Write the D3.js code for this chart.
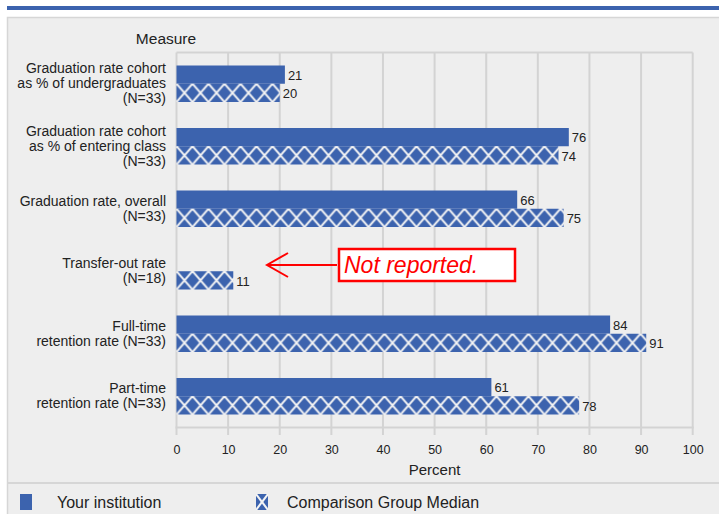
<!DOCTYPE html>
<html><head><meta charset="utf-8">
<script src="https://cdn.jsdelivr.net/npm/d3@7"></script>
<style>body{margin:0;background:#fff;} text{font-family:Arial,"Liberation Sans",sans-serif;}</style>
</head><body>
<svg id="c" width="719" height="514"></svg>
<script>
const categories = [
  ["Graduation rate cohort","as % of undergraduates","(N=33)"],
  ["Graduation rate cohort","as % of entering class","(N=33)"],
  ["Graduation rate, overall","(N=33)"],
  ["Transfer-out rate","(N=18)"],
  ["Full-time","retention rate (N=33)"],
  ["Part-time","retention rate (N=33)"]
];
const yourInstitution = [21, 76, 66, null, 84, 61];
const comparisonMedian = [20, 74, 75, 11, 91, 78];
const xTicks = [0,10,20,30,40,50,60,70,80,90,100];
const seriesNames = ["Your institution", "Comparison Group Median"];

const blue = "#3c63ae";
const svg = d3.select("#c");
const defs = svg.append("defs");

// frame
svg.append("rect").attr("x",7).attr("y",6).attr("width",712).attr("height",4).attr("fill",blue);
svg.append("rect").attr("x",7.5).attr("y",17.5).attr("width",715).attr("height",500).attr("fill","#eeeeee").attr("stroke","#d6d6d6").attr("stroke-width",1.5);
svg.append("line").attr("x1",7).attr("x2",719).attr("y1",483).attr("y2",483).attr("stroke","#d6d6d6").attr("stroke-width",2);

const x0 = 176.5, x1 = 692.7, yTop = 52.5, yBot = 427.5;
const x = d3.scaleLinear().domain([0,100]).range([x0,x1]);
const idx = categories.map((d,i)=>i);
const y = d3.scaleBand().domain(idx).range([yTop,yBot]).paddingInner(0.416).paddingOuter(0.208);
const sub = d3.scaleBand().domain([0,1]).range([0,y.bandwidth()]);

// grid
const g = svg.append("g");
g.selectAll("line.grid").data(xTicks).join("line")
  .attr("x1",d=>x(d)).attr("x2",d=>x(d)).attr("y1",yTop).attr("y2",yBot+7.5)
  .attr("stroke","#d3d3d3").attr("stroke-width",2);
g.append("line").attr("x1",x0).attr("x2",x1).attr("y1",yTop).attr("y2",yTop).attr("stroke","#d3d3d3").attr("stroke-width",2);
g.append("line").attr("x1",x0-1).attr("x2",x1+1).attr("y1",yBot).attr("y2",yBot).attr("stroke","#d3d3d3").attr("stroke-width",2);

// axis labels
const axis = d3.axisBottom(x).tickValues(xTicks).tickSize(0).tickPadding(0);
const ag = svg.append("g").attr("transform",`translate(0,${yBot+26})`).call(axis);
ag.select(".domain").remove();
ag.selectAll("text").attr("font-size",12.5).attr("fill","#222").attr("dy",0).attr("font-family","Arial,'Liberation Sans',sans-serif");
svg.append("text").attr("x",(x0+x1)/2).attr("y",475).attr("text-anchor","middle").attr("font-size",15).attr("fill","#222").text("Percent");
svg.append("text").attr("x",166).attr("y",44).attr("text-anchor","middle").attr("font-size",15.5).attr("fill","#222").text("Measure");

// category labels
categories.forEach((lines,i)=>{
  const cy = y(i)+y.bandwidth()/2;
  const lh = 15;
  const start = cy - (lines.length-1)*lh/2 + 4.5;
  const t = svg.append("text").attr("text-anchor","end").attr("font-size",14).attr("fill","#222");
  lines.forEach((l,j)=>t.append("tspan").attr("x",166).attr("y",start+j*lh).text(l));
});

// bars
categories.forEach((c,i)=>{
  const by = y(i);
  const v1 = yourInstitution[i], v2 = comparisonMedian[i];
  if (v1 != null) {
    svg.append("rect").attr("x",x(0)).attr("y",by+sub(0)).attr("width",x(v1)-x(0)).attr("height",sub.bandwidth()).attr("fill",blue);
    svg.append("text").attr("x",x(v1)+3).attr("y",by+sub(0)+sub.bandwidth()/2+5).attr("font-size",13).attr("fill","#222").text(v1);
  }
  if (v2 != null) {
    const hy = by+sub(1), hh = sub.bandwidth();
    const pid = "hatch"+i;
    const p = defs.append("pattern").attr("id",pid).attr("patternUnits","userSpaceOnUse")
      .attr("x",x(0)).attr("y",hy).attr("width",16).attr("height",hh);
    p.append("rect").attr("width",16).attr("height",hh).attr("fill",blue);
    p.append("line").attr("x1",0).attr("y1",0).attr("x2",16).attr("y2",hh).attr("stroke","#f4f4f4").attr("stroke-width",2);
    p.append("line").attr("x1",16).attr("y1",0).attr("x2",0).attr("y2",hh).attr("stroke","#f4f4f4").attr("stroke-width",2);
    svg.append("rect").attr("x",x(0)).attr("y",hy).attr("width",x(v2)-x(0)).attr("height",hh).attr("fill",`url(#${pid})`);
    svg.append("text").attr("x",x(v2)+3).attr("y",hy+hh/2+5.5).attr("font-size",13).attr("fill","#222").text(v2);
  }
});

// annotation for Transfer-out rate
{
  const red = "#ff0000";
  svg.append("rect").attr("x",339).attr("y",249).attr("width",176).attr("height",32).attr("fill","#fff").attr("stroke",red).attr("stroke-width",2.5);
  svg.append("text").attr("x",344).attr("y",273).attr("font-size",23).attr("font-style","italic").attr("fill",red).text("Not reported.");
  svg.append("line").attr("x1",337).attr("x2",267).attr("y1",265).attr("y2",265).attr("stroke",red).attr("stroke-width",2);
  svg.append("path").attr("d","M288,253 L267,265 L288,277").attr("fill","none").attr("stroke",red).attr("stroke-width",2);
}

// legend
svg.append("rect").attr("x",20).attr("y",494).attr("width",12).attr("height",16).attr("fill",blue);
svg.append("text").attr("x",57).attr("y",508).attr("font-size",16).attr("fill","#222").text(seriesNames[0]);
defs.append("pattern").attr("id","lg").attr("patternUnits","userSpaceOnUse").attr("x",256).attr("y",494).attr("width",12).attr("height",16)
  .call(p=>{p.append("rect").attr("width",12).attr("height",16).attr("fill",blue);
    p.append("line").attr("x1",0).attr("y1",0).attr("x2",12).attr("y2",16).attr("stroke","#f4f4f4").attr("stroke-width",2);
    p.append("line").attr("x1",12).attr("y1",0).attr("x2",0).attr("y2",16).attr("stroke","#f4f4f4").attr("stroke-width",2);});
svg.append("rect").attr("x",256).attr("y",494).attr("width",12).attr("height",16).attr("fill","url(#lg)");
svg.append("text").attr("x",287).attr("y",508).attr("font-size",16).attr("fill","#222").text(seriesNames[1]);
</script>
</body></html>
